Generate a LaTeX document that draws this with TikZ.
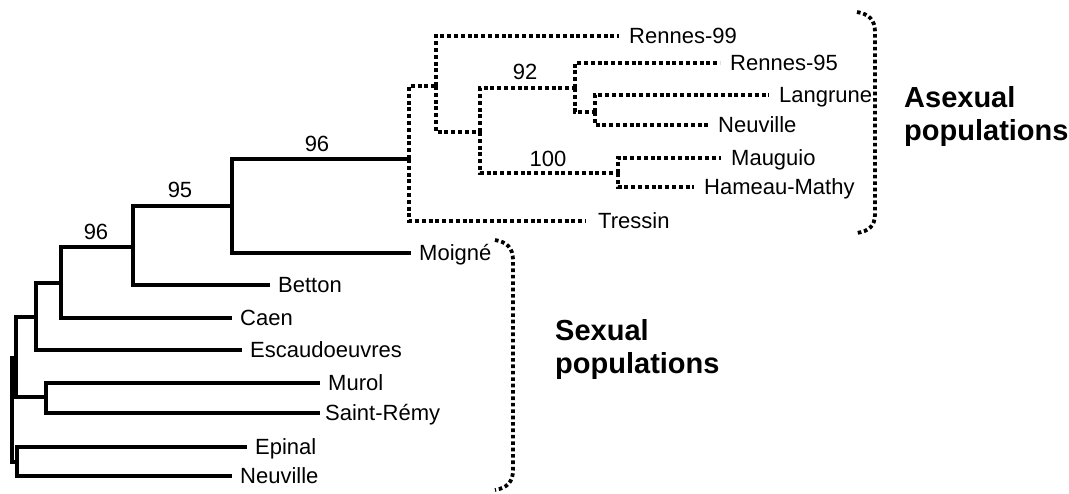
\documentclass[tikz,border=0pt]{standalone}
\usepackage{fontspec}
\setmainfont{Liberation Sans}
\begin{document}
\begin{tikzpicture}[x=1pt,y=-1pt,
  solidbr/.style={line width=3.8pt,line cap=rect},
  dotbr/.style={line width=4pt,dash pattern=on 4pt off 2.8pt},
  brack/.style={line width=3.8pt,dash pattern=on 3.6pt off 2.8pt},
  leaf/.style={anchor=base west,inner sep=0pt,xshift=10pt,yshift=-7.8pt,font=\fontsize{22}{26}\selectfont},
  boot/.style={anchor=base,inner sep=0pt,font=\fontsize{22}{26}\selectfont},
  group/.style={anchor=base west,inner sep=0pt,font=\fontsize{29}{33}\selectfont\bfseries}]
\useasboundingbox (0,0) rectangle (1069,493);
% internal nodes (x, attachment y)
\coordinate (r) at (12,410);
\coordinate (A) at (16,358);
\coordinate (B) at (36,317);
\coordinate (D) at (61,283);
\coordinate (E) at (133,247);
\coordinate (F) at (232,206);
\coordinate (G) at (409,159);
\coordinate (MS) at (46,397);
\coordinate (EN) at (17,462);
\coordinate (H) at (436,86);
\coordinate (I) at (480,132);
\coordinate (J) at (575,88);
\coordinate (L) at (595,112);
\coordinate (K) at (618,173);
% leaf ends
\coordinate (eMoi) at (409,253);
\coordinate (eBet) at (268,285);
\coordinate (eCae) at (230,318);
\coordinate (eEsc) at (240,350);
\coordinate (eMur) at (318,383);
\coordinate (eSai) at (318,413);
\coordinate (eEpi) at (245,447);
\coordinate (eNeu) at (230,476);
\coordinate (eR99) at (619,36);
\coordinate (eR95) at (720,63);
\coordinate (eLan) at (769,95);
\coordinate (eNeA) at (708,125);
\coordinate (eMau) at (721,158);
\coordinate (eHam) at (694,187);
\coordinate (eTre) at (586,221);
% labels
\node[leaf] (lMoi) at (eMoi) {Moigné};
\node[leaf] (lBet) at (eBet) {Betton};
\node[leaf] (lCae) at (eCae) {Caen};
\node[leaf] (lEsc) at (eEsc) {Escaudoeuvres};
\node[leaf] (lMur) at (eMur) {Murol};
\node[leaf,xshift=-3pt] (lSai) at (eSai) {Saint-Rémy};
\node[leaf] (lEpi) at (eEpi) {Epinal};
\node[leaf] (lNeu) at (eNeu) {Neuville};
\node[leaf] (lR99) at (eR99) {Rennes-99};
\node[leaf] (lR95) at (eR95) {Rennes-95};
\node[leaf] (lLan) at (eLan) {Langrune};
\node[leaf] (lNeA) at (eNeA) {Neuville};
\node[leaf] (lMau) at (eMau) {Mauguio};
\node[leaf] (lHam) at (eHam) {Hameau-Mathy};
\node[leaf,xshift=2pt] (lTre) at (eTre) {Tressin};
% bootstrap values
\node[boot] (b96a) at (317,151) {96};
\node[boot] (b95) at (180,197) {95};
\node[boot] (b96b) at (96,239) {96};
\node[boot] (b92) at (525,79) {92};
\node[boot] (b100) at (548,166) {100};
% solid tree
\draw[solidbr] (r) |- (A);
\draw[solidbr] (r) |- (EN);
\draw[solidbr] (A) |- (B);
\draw[solidbr] (A) |- (MS);
\draw[solidbr] (B) |- (D);
\draw[solidbr] (B) |- (eEsc);
\draw[solidbr] (D) |- (E);
\draw[solidbr] (D) |- (eCae);
\draw[solidbr] (E) |- (F);
\draw[solidbr] (E) |- (eBet);
\draw[solidbr] (F) |- (G);
\draw[solidbr] (F) |- (eMoi);
\draw[solidbr] (MS) |- (eMur);
\draw[solidbr] (MS) |- (eSai);
\draw[solidbr] (EN) |- (eEpi);
\draw[solidbr] (EN) |- (eNeu);
% dotted tree
\draw[dotbr] (G) |- (H);
\draw[dotbr] (G) |- (eTre);
\draw[dotbr] (H) |- (eR99);
\draw[dotbr] (H) |- (I);
\draw[dotbr] (I) |- (J);
\draw[dotbr] (I) |- (K);
\draw[dotbr] (J) |- (eR95);
\draw[dotbr] (J) |- (L);
\draw[dotbr] (L) |- (eLan);
\draw[dotbr] (L) |- (eNeA);
\draw[dotbr] (K) |- (eMau);
\draw[dotbr] (K) |- (eHam);
% brackets
\coordinate (aTop) at (857,12);
\coordinate (aBot) at (857,233);
\coordinate (sTop) at (495,240);
\coordinate (sBot) at (495,490);
\draw[brack] (aTop) .. controls (869,14) and (875,20) .. (875,32) -- (875,214) .. controls (875,226) and (869,231) .. (aBot);
\draw[brack] (sTop) .. controls (507,242) and (513,248) .. (513,260) -- (513,470) .. controls (513,482) and (507,488) .. (sBot);
% group labels
\node[group] (asx1) at (904,107) {Asexual};
\node[group] (asx2) at (904,140) {populations};
\node[group] (sx1) at (555,340) {Sexual};
\node[group] (sx2) at (555,373) {populations};
\end{tikzpicture}
\end{document}
